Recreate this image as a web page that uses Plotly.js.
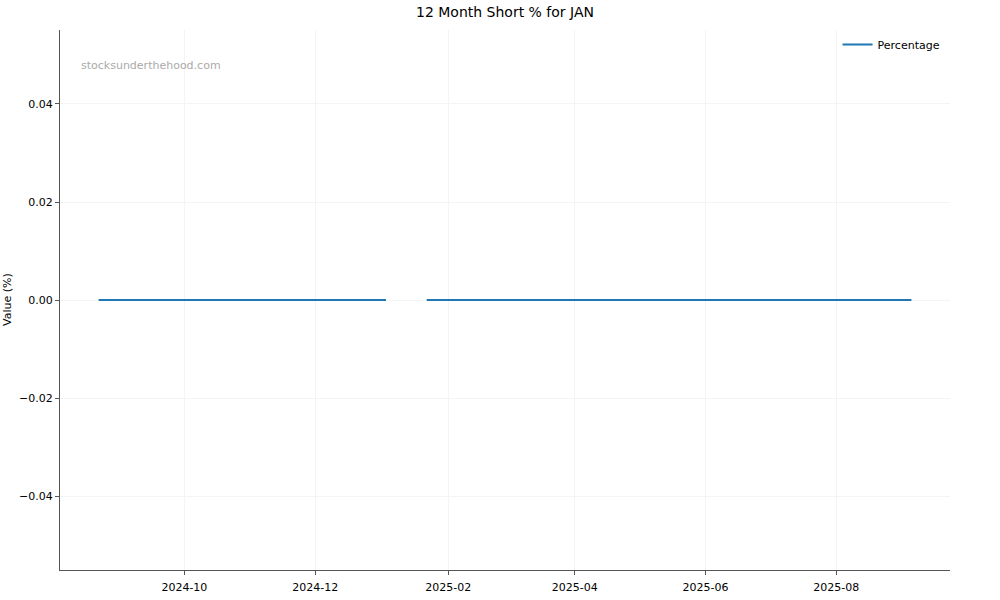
<!DOCTYPE html>
<html>
<head>
<meta charset="utf-8">
<script src="https://cdn.plot.ly/plotly-3.0.1.min.js"></script>
<style>
  html, body { margin: 0; padding: 0; background: #fff; }
  #chart { width: 1000px; height: 600px; }
</style>
</head>
<body>
<div id="chart"></div>
<script>
// Short interest readings (percent), null = missing report -> gap in line
const dates = [
  "2024-08-22", "2024-09-06", "2024-09-20", "2024-10-04", "2024-10-18",
  "2024-11-01", "2024-11-15", "2024-11-29", "2024-12-13", "2024-12-27",
  "2025-01-03", "2025-01-12", "2025-01-22", "2025-02-07", "2025-02-21",
  "2025-03-07", "2025-03-21", "2025-04-04", "2025-04-18", "2025-05-02",
  "2025-05-16", "2025-05-30", "2025-06-13", "2025-06-27", "2025-07-11",
  "2025-07-25", "2025-08-08", "2025-08-22", "2025-09-05"
];
const percentages = [
  0, 0, 0, 0, 0,
  0, 0, 0, 0, 0,
  0, null, 0, 0, 0,
  0, 0, 0, 0, 0,
  0, 0, 0, 0, 0,
  0, 0, 0, 0
];
const xTicks = ["2024-10-01", "2024-12-01", "2025-02-01", "2025-04-01", "2025-06-01", "2025-08-01"];
const xTickLabels = ["2024-10", "2024-12", "2025-02", "2025-04", "2025-06", "2025-08"];
const yTicks = [-0.04, -0.02, 0, 0.02, 0.04];

const font = "DejaVu Sans, sans-serif";

const trace = {
  x: dates,
  y: percentages,
  type: "scatter",
  mode: "lines",
  name: "Percentage",
  connectgaps: false,
  line: { color: "#1f77b4", width: 2 },
};

const layout = {
  width: 1000,
  height: 600,
  margin: { l: 60, r: 50, t: 30, b: 30 },
  paper_bgcolor: "#fff",
  plot_bgcolor: "#fff",
  font: { family: font, size: 11, color: "#000" },
  title: {
    text: "12 Month Short % for JAN",
    font: { family: font, size: 14, color: "#000" },
    x: 0.505, xanchor: "center", y: 0.98, yanchor: "middle",
  },
  showlegend: true,
  legend: {
    x: 0.995, xanchor: "right", y: 1.0, yanchor: "top",
    bgcolor: "rgba(255,255,255,0.8)",
    font: { family: font, size: 11 },
  },
  xaxis: {
    type: "date",
    range: ["2024-08-04", "2025-09-23"],
    tickvals: xTicks,
    ticktext: xTickLabels,
    showgrid: true,
    gridcolor: "#f4f4f4",
    gridwidth: 1,
    zeroline: false,
    showline: true,
    linecolor: "#555",
    linewidth: 1,
    ticks: "outside",
    ticklen: 4,
    tickcolor: "#555",
    ticklabelstandoff: 3,
    tickfont: { family: font, size: 11, color: "#000" },
  },
  yaxis: {
    range: [-0.0551, 0.0551],
    tickvals: yTicks,
    tickformat: ".2f",
    showgrid: true,
    gridcolor: "#f4f4f4",
    gridwidth: 1,
    zeroline: false,
    showline: true,
    linecolor: "#555",
    linewidth: 1,
    ticks: "outside",
    ticklen: 4,
    tickcolor: "#555",
    tickfont: { family: font, size: 11, color: "#000" },
  },
  annotations: [
    {
      text: "stocksunderthehood.com",
      xref: "paper", yref: "paper",
      x: 0, y: 1, xanchor: "left", yanchor: "middle",
      xshift: 19, yshift: -35,
      showarrow: false,
      font: { family: font, size: 11, color: "#aaa" },
    },
    {
      text: "Value (%)",
      xref: "paper", yref: "paper",
      x: 0, y: 0.5, xanchor: "center", yanchor: "middle",
      xshift: -53,
      textangle: -90,
      showarrow: false,
      font: { family: font, size: 11, color: "#000" },
    },
  ],
};

Plotly.newPlot("chart", [trace], layout, { displayModeBar: false, staticPlot: true });
</script>
</body>
</html>
